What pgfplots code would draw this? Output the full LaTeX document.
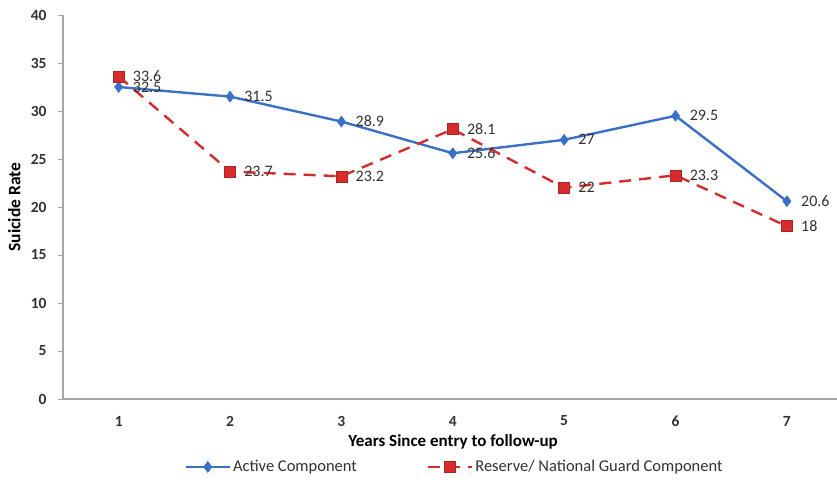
\documentclass[border=0pt]{standalone}
\usepackage{pgfplots}
\pgfplotsset{compat=1.18}
\usepackage{fontspec}
\setmainfont{Carlito}
\definecolor{axisgray}{RGB}{165,165,165}
\definecolor{actblue}{RGB}{58,112,198}
\definecolor{resred}{RGB}{214,44,44}
\definecolor{txtgray}{RGB}{50,50,50}
\begin{document}
\begin{tikzpicture}
\useasboundingbox (-63pt,-86pt) rectangle (774pt,399pt);
\begin{axis}[
  at={(0,0)}, anchor=south west,
  scale only axis,
  width=774pt, height=384pt,
  xmin=0.5, xmax=7.45,
  ymin=0, ymax=40,
  axis x line=bottom, axis y line=left,
  axis line style={draw=axisgray, line width=1.2pt, -},
  xtick={1,2,3,4,5,6,7},
  xtick style={draw=none},
  extra x ticks={1.5,2.5,3.5,4.5,5.5,6.5},
  extra x tick labels={},
  extra x tick style={tick style={draw=axisgray, line width=1pt}, major tick length=4pt, tick align=outside},
  ytick={0,5,...,40},
  ytick style={draw=axisgray, line width=1pt},
  major tick length=5pt,
  tick align=outside,
  /pgf/number format/assume math mode=true,
  ticklabel style={font=\fontsize{15.5}{17}\selectfont\bfseries, text=txtgray},
  xticklabel style={anchor=center, yshift=-17pt},
  yticklabel style={anchor=east, xshift=-8pt},
  xlabel={Years Since entry to follow-up},
  ylabel={Suicide Rate},
  label style={text=black},
  xlabel style={font=\fontsize{17}{19}\selectfont\bfseries, at={(axis description cs:0.504,-0.112)}, anchor=center},
  ylabel style={font=\fontsize{17.5}{19}\selectfont\bfseries, at={(axis description cs:-0.063,0.5)}, anchor=center},
  clip=false,
  nodes near coords,
  point meta=explicit symbolic,
  every node near coord/.append style={anchor=west, inner sep=1pt, xshift=13pt, font=\fontsize{16}{18}\selectfont, text=txtgray},
  legend style={at={(axis description cs:0.506,-0.177)}, anchor=center, draw=none, font=\fontsize{16.5}{19}\selectfont, text=txtgray, legend columns=2, inner sep=0pt},
  legend cell align=left,
  legend image code/.code={\draw[mark repeat=2, mark phase=2, #1] plot coordinates {(0pt,0pt) (22pt,0pt) (44pt,0pt)};},
  /tikz/every even column/.append style={column sep=68pt},
]
\addplot[color=actblue, line width=2.4pt, mark=diamond*, mark size=5.5pt, mark options={solid, fill=actblue, draw=actblue, line width=0.5pt}]
  table[meta=lab] {
x y lab
1 32.5 32.5
2 31.5 31.5
3 28.9 28.9
4 25.6 25.6
5 27 27
6 29.5 29.5
7 20.6 20.6
};
\addlegendentry{Active Component}
\addplot[color=resred, line width=2.4pt, dash pattern=on 12pt off 8pt, mark=square*, mark size=5.5pt, mark options={solid, fill=resred, draw=resred!80!black, line width=0.5pt}]
  table[meta=lab] {
x y lab
1 33.6 33.6
2 23.7 23.7
3 23.2 23.2
4 28.1 28.1
5 22 22
6 23.3 23.3
7 18 18
};
\addlegendentry{Reserve/ National Guard Component}
\end{axis}
\end{tikzpicture}
\end{document}
